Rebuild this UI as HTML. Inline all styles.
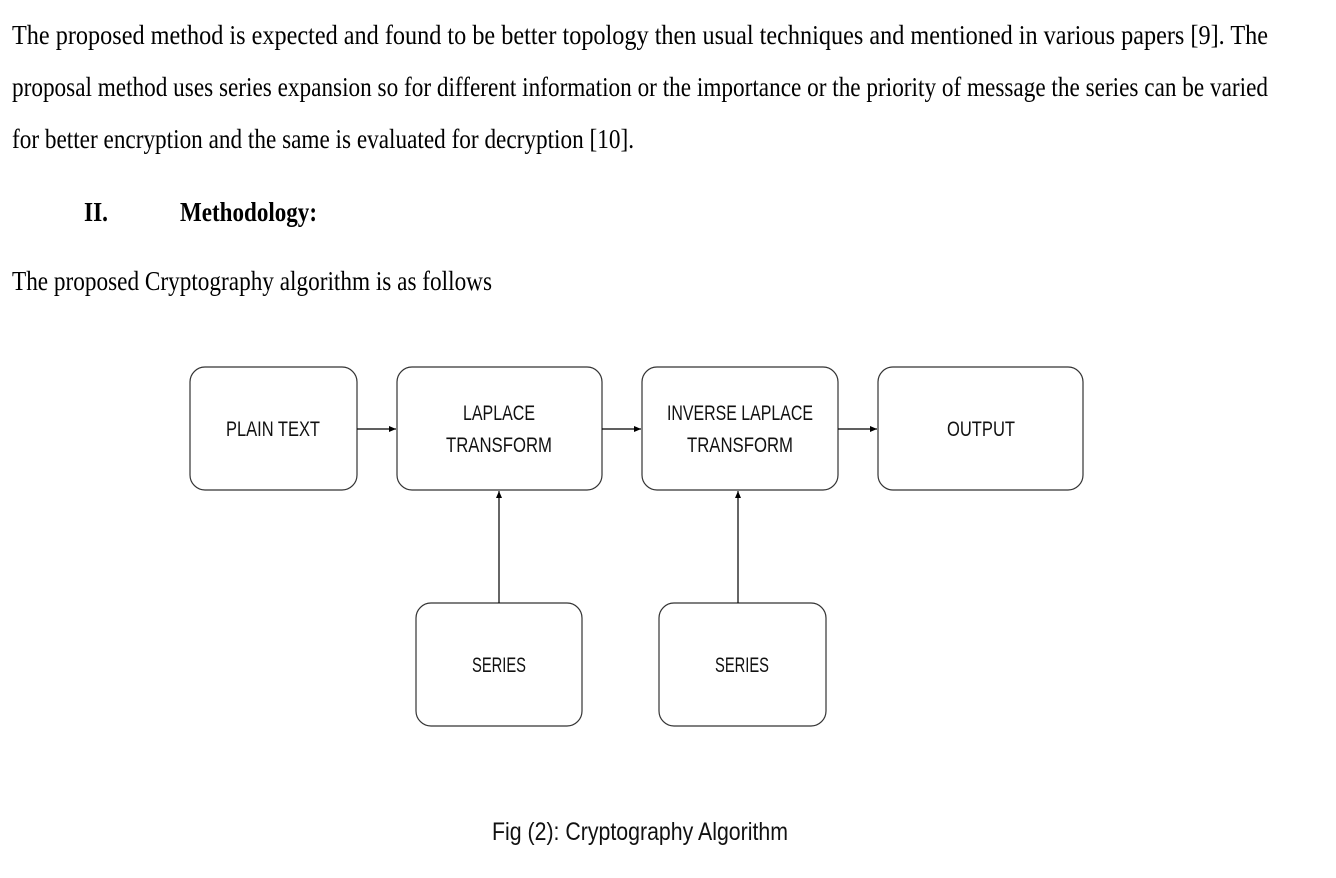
<!DOCTYPE html>
<html><head><meta charset="utf-8"><style>html,body{margin:0;padding:0;background:#fff}svg{display:block}</style></head>
<body>
<svg width="1336" height="878" viewBox="0 0 1336 878" xmlns="http://www.w3.org/2000/svg">
<defs><marker id="a" markerWidth="8" markerHeight="8" refX="7" refY="4" orient="auto" markerUnits="userSpaceOnUse"><path d="M0,1 L7,4 L0,7 z" fill="#000"/></marker></defs>
<g font-family="Liberation Serif, serif" font-size="27" fill="#000">
<text x="12" y="44" textLength="1256" lengthAdjust="spacingAndGlyphs">The proposed method is expected and found to be better topology then usual techniques and mentioned in various papers [9]. The</text>
<text x="12" y="96" textLength="1256" lengthAdjust="spacingAndGlyphs">proposal method uses series expansion so for different information or the importance or the priority of message the series can be varied</text>
<text x="12" y="148" textLength="622" lengthAdjust="spacingAndGlyphs">for better encryption and the same is evaluated for decryption [10].</text>
<text x="84" y="221" font-weight="bold" textLength="24" lengthAdjust="spacingAndGlyphs">II.</text>
<text x="180" y="221" font-weight="bold" textLength="137" lengthAdjust="spacingAndGlyphs">Methodology:</text>
<text x="12" y="290" textLength="480" lengthAdjust="spacingAndGlyphs">The proposed Cryptography algorithm is as follows</text>
</g>
<g fill="#fff" stroke="#333" stroke-width="1.2">
<rect x="190" y="367" width="167" height="123" rx="15"/>
<rect x="397" y="367" width="205" height="123" rx="15"/>
<rect x="642" y="367" width="196" height="123" rx="15"/>
<rect x="878" y="367" width="205" height="123" rx="15"/>
<rect x="416" y="603" width="166" height="123" rx="15"/>
<rect x="659" y="603" width="167" height="123" rx="15"/>
</g>
<g stroke="#000" stroke-width="1.2" marker-end="url(#a)">
<line x1="357" y1="429" x2="396" y2="429"/>
<line x1="602" y1="429" x2="641" y2="429"/>
<line x1="838" y1="429" x2="877" y2="429"/>
<line x1="499" y1="603" x2="499" y2="491"/>
<line x1="738" y1="603" x2="738" y2="491"/>
</g>
<g font-family="Liberation Sans, sans-serif" font-size="21" fill="#111" text-anchor="middle">
<text x="273" y="436" textLength="94" lengthAdjust="spacingAndGlyphs">PLAIN TEXT</text>
<text x="499" y="420" textLength="72" lengthAdjust="spacingAndGlyphs">LAPLACE</text>
<text x="499" y="452" textLength="106" lengthAdjust="spacingAndGlyphs">TRANSFORM</text>
<text x="740" y="420" textLength="146" lengthAdjust="spacingAndGlyphs">INVERSE LAPLACE</text>
<text x="740" y="452" textLength="106" lengthAdjust="spacingAndGlyphs">TRANSFORM</text>
<text x="981" y="436" textLength="68" lengthAdjust="spacingAndGlyphs">OUTPUT</text>
<text x="499" y="672" textLength="54" lengthAdjust="spacingAndGlyphs">SERIES</text>
<text x="742" y="672" textLength="54" lengthAdjust="spacingAndGlyphs">SERIES</text>
<text x="640" y="840" font-size="25" textLength="296" lengthAdjust="spacingAndGlyphs">Fig (2): Cryptography Algorithm</text>
</g>
</svg>
</body></html>
